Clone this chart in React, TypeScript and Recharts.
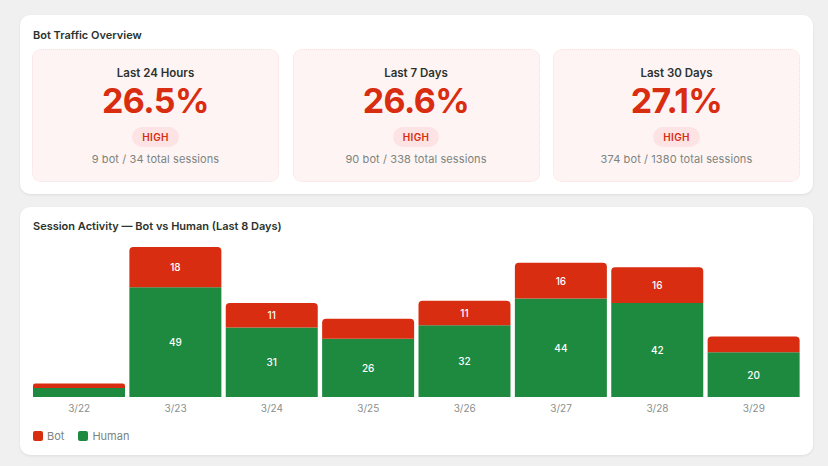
import React from 'react';
import { BarChart, Bar, XAxis, YAxis, Legend, LabelList } from 'recharts';

const days = ['3/22', '3/23', '3/24', '3/25', '3/26', '3/27', '3/28', '3/29'];
const botSessions = [2, 18, 11, 9, 11, 16, 16, 7];
const humanSessions = [4, 49, 31, 26, 32, 44, 42, 20];

const periodLabels = ['Last 24 Hours', 'Last 7 Days', 'Last 30 Days'];
const periodBotPct = ['26.5%', '26.6%', '27.1%'];
const periodBot = [9, 90, 374];
const periodTotal = [34, 338, 1380];

const RED = '#d82d10';
const GREEN = '#1e8a3f';
const FONT = 'Inter, "Noto Sans", sans-serif';

const chartData = days.map((day, i) => ({ day, bot: botSessions[i], human: humanSessions[i] }));

// only label segments tall enough to hold text
const SegmentLabel = (props: any) => {
  const { x, y, width, height, value } = props;
  if (value < 10) return null;
  return (
    <text
      x={x + width / 2}
      y={y + height / 2}
      textAnchor="middle"
      dominantBaseline="central"
      fill="#ffffff"
      fontSize={10}
      fontWeight={500}
      fontFamily={FONT}
    >
      {value}
    </text>
  );
};

const LegendContent = () => (
  <div style={{ display: 'flex', gap: 14, paddingTop: 10, paddingLeft: 2, fontFamily: FONT, fontSize: 11, color: '#7b847e' }}>
    {[{ name: 'Bot', color: RED }, { name: 'Human', color: GREEN }].map((item) => (
      <div key={item.name} style={{ display: 'flex', alignItems: 'center', gap: 4 }}>
        <span style={{ width: 10, height: 10, borderRadius: 2, background: item.color, display: 'inline-block' }} />
        <span>{item.name}</span>
      </div>
    ))}
  </div>
);

const card: React.CSSProperties = {
  position: 'absolute',
  left: 20,
  width: 793,
  background: '#ffffff',
  borderRadius: 10,
  boxShadow: '0 1px 3px rgba(0,0,0,0.08)',
  boxSizing: 'border-box',
};

const cardTitle: React.CSSProperties = {
  position: 'absolute',
  left: 13,
  fontSize: 11,
  fontWeight: 600,
  color: '#2b332e',
  lineHeight: '14px',
};

export default function App() {
  return (
    <div style={{ position: 'absolute', left: 0, top: 0, width: 828, height: 466, background: '#f0f0f0', fontFamily: FONT }}>
      <div style={{ ...card, top: 15, height: 179 }}>
        <div style={{ ...cardTitle, top: 13 }}>Bot Traffic Overview</div>
        {periodLabels.map((label, i) => (
          <div
            key={label}
            style={{
              position: 'absolute',
              top: 34,
              left: 12 + i * 260.5,
              width: 247,
              height: 133,
              background: '#fff4f4',
              border: '1px dotted #f8dede',
              borderRadius: 9,
              boxSizing: 'border-box',
              textAlign: 'center',
            }}
          >
            <div style={{ position: 'absolute', top: 15, width: '100%', fontSize: 11.5, fontWeight: 600, color: '#2b332e', lineHeight: '16px' }}>
              {label}
            </div>
            <div style={{ position: 'absolute', top: 32, width: '100%', fontSize: 34, fontWeight: 700, color: RED, lineHeight: '38px', letterSpacing: -0.6 }}>
              {periodBotPct[i]}
            </div>
            <div style={{ position: 'absolute', top: 77, width: '100%', display: 'flex', justifyContent: 'center' }}>
              <span style={{ background: '#fde3e3', color: RED, fontSize: 10, fontWeight: 600, lineHeight: '20px', height: 20, padding: '0 10px', borderRadius: 10, letterSpacing: 0.3 }}>
                HIGH
              </span>
            </div>
            <div style={{ position: 'absolute', top: 102, width: '100%', fontSize: 11, color: '#7b847e', lineHeight: '14px', letterSpacing: 0.1 }}>
              {periodBot[i]} bot / {periodTotal[i]} total sessions
            </div>
          </div>
        ))}
      </div>

      <div style={{ ...card, top: 207, height: 248 }}>
        <div style={{ ...cardTitle, top: 12 }}>Session Activity — Bot vs Human (Last 8 Days)</div>
        <div style={{ position: 'absolute', left: 0, top: 0 }}>
          <BarChart width={793} height={248} data={chartData} margin={{ top: 40, right: 11, left: 11, bottom: 0 }} barCategoryGap={2}>
            <XAxis
              dataKey="day"
              height={22}
              tickLine={false}
              axisLine={false}
              tick={{ fill: '#8a8f8c', fontSize: 10, fontFamily: FONT }}
            />
            <YAxis hide domain={[0, 'dataMax']} />
            <Legend verticalAlign="bottom" align="left" height={36} content={<LegendContent />} />
            <Bar dataKey="human" name="Human" stackId="s" fill={GREEN} isAnimationActive={false}>
              <LabelList dataKey="human" content={<SegmentLabel />} />
            </Bar>
            <Bar dataKey="bot" name="Bot" stackId="s" fill={RED} radius={[4, 4, 0, 0]} isAnimationActive={false}>
              <LabelList dataKey="bot" content={<SegmentLabel />} />
            </Bar>
          </BarChart>
        </div>
      </div>
    </div>
  );
}
